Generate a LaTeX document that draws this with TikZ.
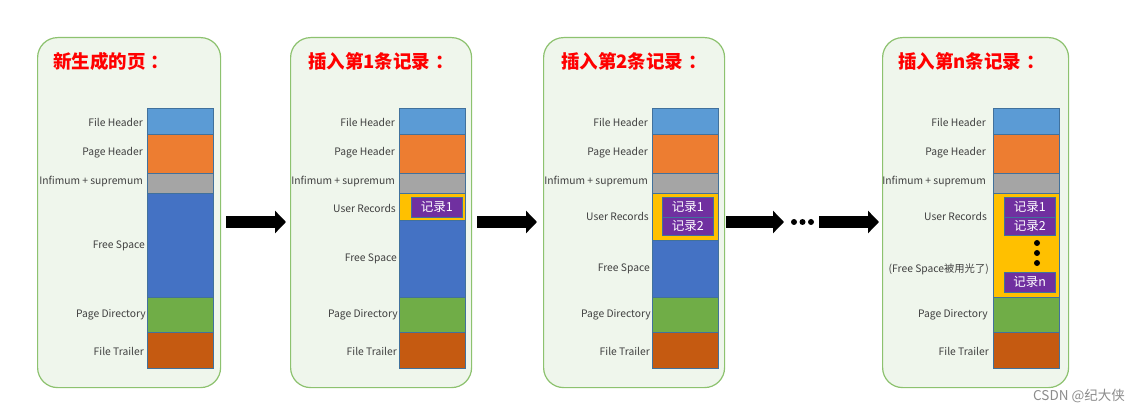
\documentclass[tikz,border=0pt]{standalone}
\usepackage{fontspec}
\setmainfont{Noto Sans CJK SC}
\usetikzlibrary{arrows.meta,positioning}
\definecolor{panelfill}{HTML}{EFF6EC}
\definecolor{paneldraw}{HTML}{8DC26F}
\definecolor{cFH}{HTML}{5B9BD5}
\definecolor{cPH}{HTML}{ED7D31}
\definecolor{cIS}{HTML}{A5A5A5}
\definecolor{cFS}{HTML}{4472C4}
\definecolor{cPD}{HTML}{70AD47}
\definecolor{cFT}{HTML}{C55A11}
\definecolor{cUR}{HTML}{FFC000}
\definecolor{cRec}{HTML}{7030A0}
\definecolor{edge}{HTML}{41719C}
\definecolor{titlered}{HTML}{FF0000}
\definecolor{lbl}{HTML}{404040}
\newcommand{\tcolon}{\hspace{5pt}：}
\tikzset{
  panel/.style={draw=paneldraw, line width=1.2pt, fill=panelfill, rounded corners=20pt,
    anchor=north west, inner sep=0pt, minimum height=350pt},
  title/.style={text=titlered, font=\fontsize{18.5}{21}\selectfont\bfseries, anchor=west, inner sep=0pt},
  blk/.style={draw=edge, line width=0.6pt, anchor=north west, inner sep=0pt, minimum width=66pt},
  lab/.style={text=lbl, font=\fontsize{10.3}{12}\selectfont, anchor=east, inner sep=0pt},
  rec/.style={draw=edge, line width=0.6pt, fill=cRec, text=white, anchor=north west, inner sep=0pt,
    minimum width=51pt, font=\fontsize{12.5}{14}\selectfont},
  bigarrow/.style={line width=12pt, -{Triangle[length=11pt,width=22pt]}},
  dotn/.style={circle, fill=black, inner sep=0pt, minimum size=6pt},
}
\begin{document}
\begin{tikzpicture}[x=1pt,y=-1pt]
\useasboundingbox (0,0) rectangle (1146,414);
\fill[white] (0,0) rectangle (1146,414);
% panels
\node[panel, minimum width=183pt] (p1) at (37,37) {};
\node[panel, minimum width=181pt] (p2) at (290,37) {};
\node[panel, minimum width=181pt] (p3) at (543,37) {};
\node[panel, minimum width=186pt] (p4) at (882,37) {};
% titles
\node[title] (t1) at (53,61) {新生成的页\tcolon};
\node[title] (t2) at (308,61) {插入第1条记录\tcolon};
\node[title] (t3) at (561,61) {插入第2条记录\tcolon};
\node[title] (t4) at (898,61) {插入第n条记录\tcolon};
% ---------- panel 1 ----------
\node[blk, fill=cFH, minimum height=26pt] (fh1) at (147,108) {};
\node[blk, fill=cPH, minimum height=39pt] (ph1) at (147,134) {};
\node[blk, fill=cIS, minimum height=20pt] (is1) at (147,173) {};
\node[blk, fill=cFS, minimum height=104pt] (fs1) at (147,193) {};
\node[blk, fill=cPD, minimum height=35pt] (pd1) at (147,297) {};
\node[blk, fill=cFT, minimum height=36pt] (ft1) at (147,332) {};
\node[lab] (lfh1) at (143,122) {File Header};
\node[lab] (lph1) at (143,153) {Page Header};
\node[lab] (lis1) at (143,182) {Infimum + supremum};
\node[lab] (lfs1) at (145,246) {Free Space};
\node[lab] (lpd1) at (146,315) {Page Directory};
\node[lab] (lft1) at (144,351) {File Trailer};
% ---------- panel 2 ----------
\node[blk, fill=cFH, minimum height=26pt] (fh2) at (399,108) {};
\node[blk, fill=cPH, minimum height=39pt] (ph2) at (399,134) {};
\node[blk, fill=cIS, minimum height=20pt] (is2) at (399,173) {};
\node[blk, fill=cUR, minimum height=27pt] (ur2) at (399,193) {};
\node[blk, fill=cFS, minimum height=77pt] (fs2) at (399,220) {};
\node[blk, fill=cPD, minimum height=35pt] (pd2) at (399,297) {};
\node[blk, fill=cFT, minimum height=36pt] (ft2) at (399,332) {};
\node[rec, minimum height=20pt] (r21) at (411,197) {记录1};
\node[lab] (lfh2) at (395,122) {File Header};
\node[lab] (lph2) at (395,153) {Page Header};
\node[lab] (lis2) at (395,182) {Infimum + supremum};
\node[lab] (lur2) at (396,208) {User Records};
\node[lab] (lfs2) at (397,259) {Free Space};
\node[lab] (lpd2) at (398,315) {Page Directory};
\node[lab] (lft2) at (397,351) {File Trailer};
% ---------- panel 3 ----------
\node[blk, fill=cFH, minimum height=26pt] (fh3) at (652,108) {};
\node[blk, fill=cPH, minimum height=39pt] (ph3) at (652,134) {};
\node[blk, fill=cIS, minimum height=20pt] (is3) at (652,173) {};
\node[blk, fill=cUR, minimum height=47pt] (ur3) at (652,193) {};
\node[blk, fill=cFS, minimum height=57pt] (fs3) at (652,240) {};
\node[blk, fill=cPD, minimum height=35pt] (pd3) at (652,297) {};
\node[blk, fill=cFT, minimum height=36pt] (ft3) at (652,332) {};
\node[rec, minimum height=20pt] (r31) at (662,197) {记录1};
\node[rec, minimum height=18pt] (r32) at (662,217) {记录2};
\node[lab] (lfh3) at (648,122) {File Header};
\node[lab] (lph3) at (648,153) {Page Header};
\node[lab] (lis3) at (648,182) {Infimum + supremum};
\node[lab] (lur3) at (649,216) {User Records};
\node[lab] (lfs3) at (650,269) {Free Space};
\node[lab] (lpd3) at (651,315) {Page Directory};
\node[lab] (lft3) at (650,351) {File Trailer};
% ---------- panel 4 ----------
\node[blk, fill=cFH, minimum height=26pt] (fh4) at (993,108) {};
\node[blk, fill=cPH, minimum height=39pt] (ph4) at (993,134) {};
\node[blk, fill=cIS, minimum height=20pt] (is4) at (993,173) {};
\node[blk, fill=cUR, minimum height=104pt] (ur4) at (993,193) {};
\node[blk, fill=cPD, minimum height=35pt] (pd4) at (993,297) {};
\node[blk, fill=cFT, minimum height=36pt] (ft4) at (993,332) {};
\node[rec, minimum height=20pt] (r41) at (1004,197) {记录1};
\node[rec, minimum height=18pt] (r42) at (1004,217) {记录2};
\node[rec, minimum height=20pt] (r4n) at (1004,272) {记录n};
\node[dotn] (vd1) at (1037,243) {};
\node[dotn] (vd2) at (1037,253) {};
\node[dotn] (vd3) at (1037,263) {};
\node[lab] (lfh4) at (986,122) {File Header};
\node[lab] (lph4) at (986,153) {Page Header};
\node[lab] (lis4) at (986,182) {Infimum + supremum};
\node[lab] (lur4) at (987,216) {User Records};
\node[lab] (lfs4) at (989,269) {(Free Space被用光了)};
\node[lab] (lpd4) at (988,315) {Page Directory};
\node[lab] (lft4) at (989,351) {File Trailer};
% ---------- arrows ----------
\coordinate (a1s) at (226,222); \coordinate (a1e) at (286,222);
\coordinate (a2s) at (477,222); \coordinate (a2e) at (537,222);
\coordinate (a3s) at (726,222); \coordinate (a3e) at (784,222);
\coordinate (a4s) at (819,222); \coordinate (a4e) at (879,222);
\draw[bigarrow] (a1s) -- (a1e);
\draw[bigarrow] (a2s) -- (a2e);
\draw[bigarrow] (a3s) -- (a3e);
\draw[bigarrow] (a4s) -- (a4e);
\node[dotn] (hd1) at (794,222) {};
\node[dotn] (hd2) at (802.5,222) {};
\node[dotn] (hd3) at (811,222) {};
% watermark
\node[text=black!45, font=\fontsize{13.5}{15}\selectfont, anchor=west, inner sep=0pt] (wm) at (1033,396) {CSDN @纪大侠};
\end{tikzpicture}
\end{document}
